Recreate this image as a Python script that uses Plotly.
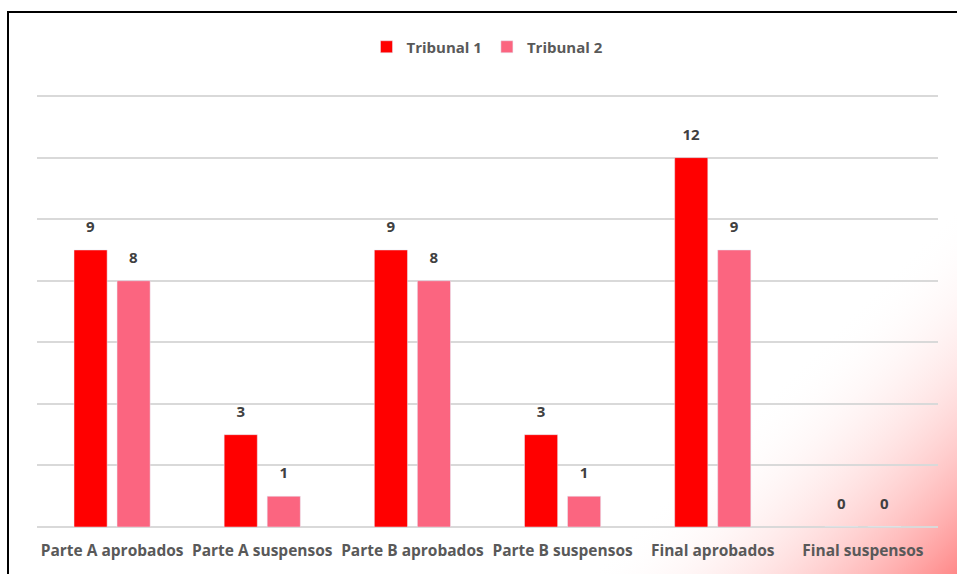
import base64
import plotly.graph_objects as go

categorias = ["Parte A aprobados", "Parte A suspensos", "Parte B aprobados",
              "Parte B suspensos", "Final aprobados", "Final suspensos"]
tribunal_1 = [9, 3, 9, 3, 12, 0]
tribunal_2 = [8, 1, 8, 1, 9, 0]

# degradado rojo en la esquina inferior derecha
svg = """<svg xmlns='http://www.w3.org/2000/svg' width='957' height='574'>
<defs><linearGradient id='g' gradientUnits='userSpaceOnUse' x1='580' y1='580' x2='766' y2='766'>
<stop offset='0' stop-color='#ffffff' stop-opacity='0'/>
<stop offset='1' stop-color='#ff8888' stop-opacity='1'/>
</linearGradient></defs>
<rect width='957' height='574' fill='url(#g)'/></svg>"""
fondo = "data:image/svg+xml;base64," + base64.b64encode(svg.encode()).decode()

etiqueta = "<span style='font-size:15px'>%{text}</span><br> "

fig = go.Figure()
fig.add_trace(go.Bar(name="Tribunal 1", x=categorias, y=tribunal_1, marker_color="#ff0000",
                     text=tribunal_1, texttemplate=etiqueta, textposition="outside",
                     cliponaxis=False))
fig.add_trace(go.Bar(name="Tribunal 2", x=categorias, y=tribunal_2, marker_color="#fb6580",
                     text=tribunal_2, texttemplate=etiqueta, textposition="outside",
                     cliponaxis=False))

fig.update_traces(textfont=dict(family="Open Sans", size=9.2, color="#404040", weight="bold"))

L, R, T, B = 37, 19, 93, 47
pw, ph = 957 - L - R, 574 - T - B

fig.update_layout(
    width=957, height=574,
    margin=dict(l=L, r=R, t=T, b=B),
    paper_bgcolor="white", plot_bgcolor="rgba(0,0,0,0)",
    barmode="group", bargap=0.427, bargroupgap=0.23,
    font=dict(family="Open Sans", color="#595959"),
    legend=dict(orientation="h", x=0.5, xanchor="center", y=1 + (T - 47) / ph, yanchor="middle",
                font=dict(size=15, color="#595959", weight="bold"), bgcolor="rgba(0,0,0,0)",
                itemwidth=30, tracegroupgap=0),
    xaxis=dict(tickfont=dict(size=15.5, color="#595959", weight="bold"), showgrid=False,
               ticks="", showline=False, ticklabelstandoff=12),
    yaxis=dict(range=[0, 14.1], dtick=2, showticklabels=False, gridcolor="#d9d9d9", gridwidth=1.5,
               zeroline=True, zerolinecolor="#d9d9d9", zerolinewidth=1.5),
    images=[dict(source=fondo, xref="paper", yref="paper", x=-L / pw, y=1 + T / ph,
                 sizex=957 / pw, sizey=574 / ph, xanchor="left", yanchor="top",
                 sizing="stretch", layer="below")],
    shapes=[dict(type="rect", xref="paper", yref="paper", x0=(8 - L) / pw, x1=1.2,
                 y0=-0.3, y1=1 + (T - 12) / ph, line=dict(color="black", width=2))],
)

fig.write_html("out.html", config={"displayModeBar": False},
               post_script="document.body.style.margin='0';")
